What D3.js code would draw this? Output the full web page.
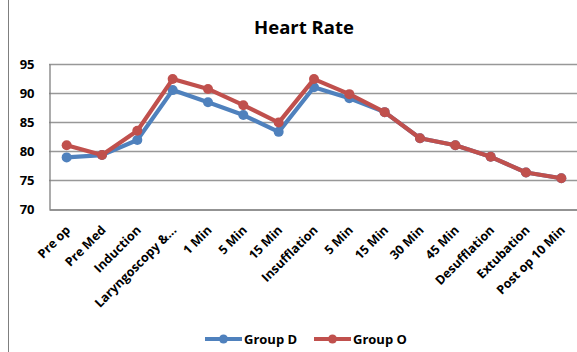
<!DOCTYPE html>
<html>
<head>
<meta charset="utf-8">
<script src="https://cdn.jsdelivr.net/npm/d3@7"></script>
<style>
  html, body { margin: 0; padding: 0; background: #fff; }
  svg { display: block; font-family: "Open Sans", Lato, sans-serif; }
</style>
</head>
<body>
<svg id="chart" width="577" height="352"></svg>
<script>
// Heart rate by time point for the two study groups
const categories = ["Pre op", "Pre Med", "Induction", "Laryngoscopy &...", "1 Min", "5 Min", "15 Min",
  "Insufflation", "5 Min", "15 Min", "30 Min", "45  Min", "Desufflation", "Extubation", "Post op 10 Min"];
const groupD = [78.9, 79.3, 81.9, 90.5, 88.4, 86.2, 83.3, 91.0, 89.1, 86.7, 82.2, 81.0, 79.0, 76.3, 75.3];
const groupO = [81.0, 79.3, 83.5, 92.4, 90.7, 87.9, 84.9, 92.4, 89.8, 86.7, 82.2, 81.0, 79.0, 76.3, 75.3];
const yTicks = [70, 75, 80, 85, 90, 95];
const seriesNames = ["Group D", "Group O"];

const colors = { "Group D": "#4F81BD", "Group O": "#C0504D" };
const series = [
  { name: seriesNames[0], values: groupD },
  { name: seriesNames[1], values: groupO }
];

const svg = d3.select("#chart");
const plot = { left: 49, right: 579, top: 64, bottom: 209 };

// Outer frame edge on the left
svg.append("line")
  .attr("x1", 8.5).attr("x2", 8.5).attr("y1", 0).attr("y2", 352)
  .attr("stroke", "#7f7f7f").attr("stroke-width", 1);

const x = d3.scaleBand()
  .domain(d3.range(categories.length))
  .range([plot.left, plot.right]);

const y = d3.scaleLinear()
  .domain([70, 95])
  .range([plot.bottom, plot.top]);

// Title
svg.append("text")
  .attr("x", 304).attr("y", 34)
  .attr("text-anchor", "middle")
  .attr("font-size", 18.5).attr("font-weight", "bold")
  .attr("fill", "#000")
  .text("Heart Rate");

// Horizontal gridlines
svg.append("g")
  .selectAll("line")
  .data(yTicks.filter(t => t !== 70))
  .join("line")
  .attr("x1", plot.left).attr("x2", plot.right)
  .attr("y1", d => Math.round(y(d)) + 0.5).attr("y2", d => Math.round(y(d)) + 0.5)
  .attr("stroke", "#989898").attr("stroke-width", 1.3);

// Y axis
const yAxis = svg.append("g")
  .attr("transform", `translate(${plot.left + 0.5},0)`)
  .call(d3.axisLeft(y).tickValues(yTicks).tickSize(0).tickPadding(15));
yAxis.select(".domain").attr("stroke", "#7f7f7f").attr("stroke-width", 1.3);
yAxis.selectAll("text")
  .attr("font-size", 13).attr("font-weight", "bold").attr("fill", "#000")
  .attr("font-family", "'Open Sans', Lato, sans-serif");

// X axis
const xAxis = svg.append("g")
  .attr("transform", `translate(0,${Math.round(plot.bottom) + 0.5})`)
  .call(d3.axisBottom(x).tickFormat(i => categories[i]).tickSize(0).tickPadding(0));
xAxis.select(".domain").attr("stroke", "#6f6f6f").attr("stroke-width", 1.5);
xAxis.selectAll("text")
  .attr("font-size", 12.5).attr("font-weight", "bold").attr("fill", "#000")
  .attr("font-family", "'Open Sans', Lato, sans-serif")
  .attr("text-anchor", "end")
  .attr("dy", 0)
  .attr("transform", "translate(4.5,21.5) rotate(-45)");

// Series lines and markers
const line = d3.line()
  .x((d, i) => x(i) + x.bandwidth() / 2)
  .y(d => y(d));

const g = svg.append("g");
series.forEach(s => {
  g.append("path")
    .datum(s.values)
    .attr("d", line)
    .attr("fill", "none")
    .attr("stroke", colors[s.name])
    .attr("stroke-width", 4.2)
    .attr("stroke-linejoin", "round");
  g.append("g")
    .selectAll("circle")
    .data(s.values)
    .join("circle")
    .attr("cx", (d, i) => x(i) + x.bandwidth() / 2)
    .attr("cy", d => y(d))
    .attr("r", 5)
    .attr("fill", colors[s.name]);
});

// Legend
const legend = svg.append("g").attr("transform", "translate(0,339)");
const legendX = [205, 314];
series.forEach((s, k) => {
  const lx = legendX[k];
  legend.append("line")
    .attr("x1", lx).attr("x2", lx + 37).attr("y1", 0).attr("y2", 0)
    .attr("stroke", colors[s.name]).attr("stroke-width", 4);
  legend.append("circle")
    .attr("cx", lx + 18.5).attr("cy", 0).attr("r", 4.5)
    .attr("fill", colors[s.name]);
  legend.append("text")
    .attr("x", lx + 39).attr("y", 0).attr("dy", "0.35em")
    .attr("font-size", 13).attr("font-weight", "bold").attr("fill", "#000")
    .text(s.name);
});
</script>
</body>
</html>
